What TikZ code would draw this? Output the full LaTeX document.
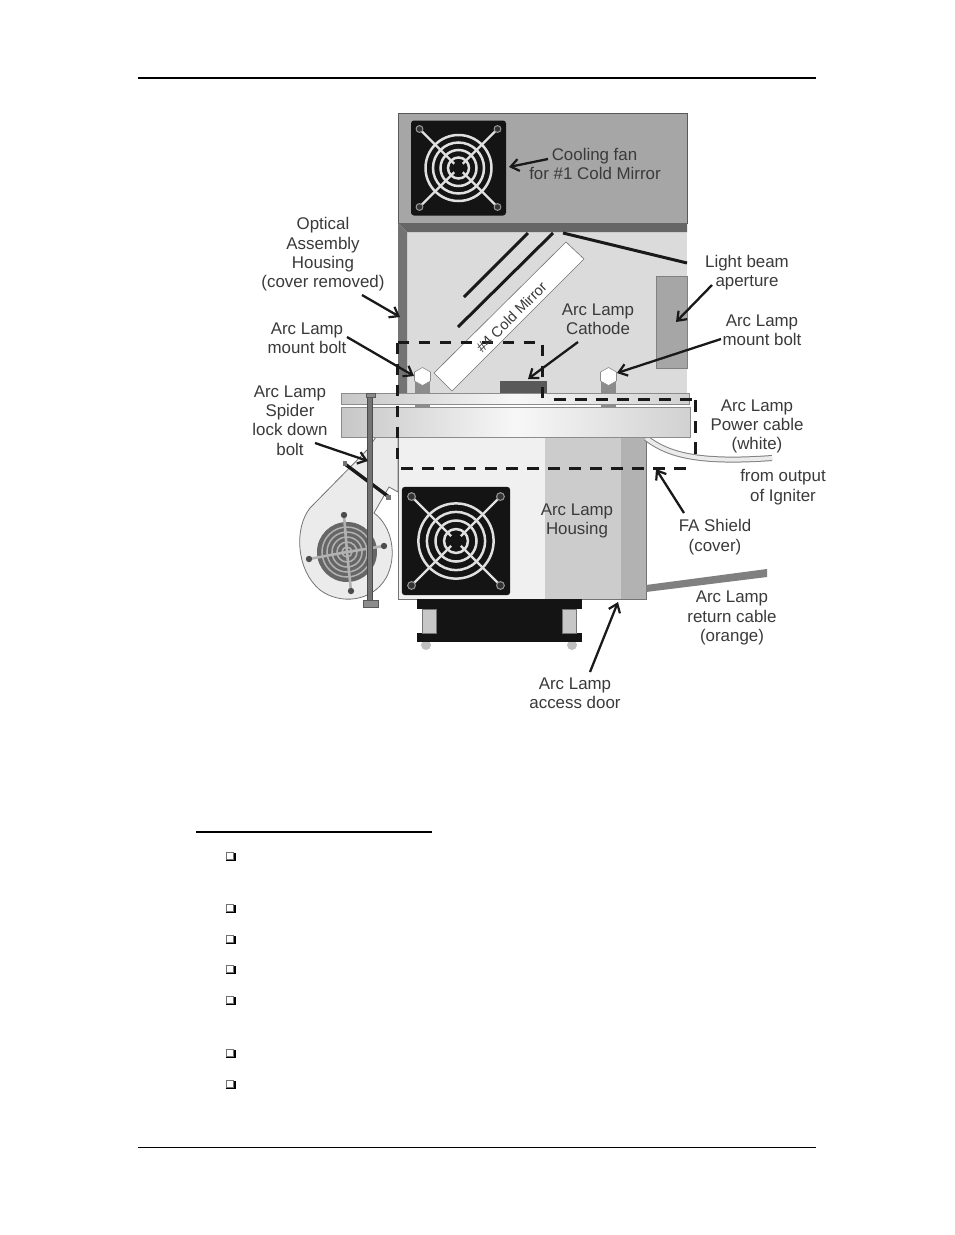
\documentclass[tikz,border=0pt]{standalone}
\usepackage{fontspec}
\setmainfont{Liberation Sans}
\usetikzlibrary{arrows.meta}
\definecolor{txt}{HTML}{3A3A3A}
\tikzset{
  lbl/.style={text=txt,font=\fontsize{16.9}{19.3}\selectfont,align=center,inner sep=0pt},
  callout/.style={draw=black!90,line width=2.3pt,-{Straight Barb[length=8pt,width=12pt,line width=2.2pt]}},
  dashline/.style={draw=black!90,line width=2.9pt,dash pattern=on 11.5pt off 9.5pt},
  platefill/.style={draw=black!45,line width=.8pt,left color=black!22,right color=black!18,middle color=black!3},
  fanring/.style={draw=black!12,line width=2.5pt},
  checkbox/.style={draw=black!55,line width=1pt,fill=white,minimum size=7.5pt,inner sep=0pt},
  bulletshadow/.style={draw=black,line width=1.7pt},
}
\newcommand{\fanunit}[3]{%
  \begin{scope}[shift={(#1,#2)},scale=#3]
    \fill[black!92,rounded corners=3pt] (-47.5,-47.5) rectangle (47.5,47.5);
    \foreach \sx/\sy in {1/1,1/-1,-1/1,-1/-1}{
      \draw[black!12,line width=2.3pt] (0,0) -- (\sx*38,\sy*38);
      \draw[black!40,fill=black!80,line width=1pt] (\sx*39,\sy*39) circle (3.4);
    }
    \foreach \r in {33,25.5,18,10.5}{\draw[fanring] (0,0) circle (\r);}
    \fill[black!92] (0,0) circle (6);
  \end{scope}}
\newcommand{\checkitem}[2]{%
  \node[checkbox] (#1) at (230,#2) {};
  \draw[bulletshadow] (226,#2+4.6) -- (234.8,#2+4.6) -- (234.8,#2-3.5);}
\begin{document}
\begin{tikzpicture}[x=1pt,y=-1pt]
\useasboundingbox (0,0) rectangle (954,1235);
\fill[white] (0,0) rectangle (954,1235);
% page rules
\draw[black,line width=2pt] (138,78) -- (816,78);
\draw[black,line width=1pt] (138,1147.5) -- (816,1147.5);
\draw[black,line width=2pt] (196,832) -- (432,832);
\checkitem{c1}{856}\checkitem{c2}{908}\checkitem{c3}{939}\checkitem{c4}{969}
\checkitem{c5}{1000}\checkitem{c6}{1053}\checkitem{c7}{1084}
% upper housing
\fill[black!35,draw=black!65,line width=.8pt] (398,113) rectangle (687,223);
\fill[black!14] (407,232) rectangle (687,393);
\fill[black!60] (398,223) -- (687,223) -- (687,232) -- (407,232) -- cycle;
\fill[black!55] (398,223) -- (407,232) -- (407,396) -- (398,396) -- cycle;
\fanunit{458.5}{168}{1}
\draw[black!90,line width=3pt] (528,233) -- (464,297);
\draw[black!90,line width=3pt] (553,233) -- (458,327);
\draw[black!90,line width=3pt] (563,233) -- (687,263);
\draw[black!55,fill=white,line width=.6pt] (566,242) -- (584,259) -- (452,391) -- (434,373) -- cycle;
\fill[black!35,draw=black!50,line width=.5pt] (656,276) rectangle (687,368);
\fill[black!65] (500,381) rectangle (547,393);
\foreach \bx/\nm in {422.5/ba,608.5/bb}{
  \fill[black!45] (\bx-7.5,381) rectangle (\bx+7.5,393);
  \fill[black!45] (\bx-7.5,404) rectangle (\bx+7.5,407);
  \draw[black!45,fill=white,line width=.6pt] (\bx,367.5) -- (\bx+8,372) -- (\bx+8,381) -- (\bx,385.5) -- (\bx-8,381) -- (\bx-8,372) -- cycle;
}
% blower
\draw[black!55,fill=black!8,line width=.8pt] (376,437) -- (367,450) -- (310,508) .. controls (294,528) and (296,570) .. (320,590) .. controls (340,605) and (372,602) .. (386,578) .. controls (398,556) and (392,526) .. (374,513) -- (389,487) -- (398,492) -- (398,437) -- cycle;
\fill[black!60] (347,552) circle (30);
\foreach \r in {25,20,15,10,5}{\draw[black!30,line width=1.5pt] (347,552) circle (\r);}
\foreach \sx/\sy in {344/515,384/546,351/591,309/559}{
  \draw[black!30,line width=2.6pt] (347,552) -- (\sx,\sy);
  \fill[black!70] (\sx,\sy) circle (3.2);
}
\draw[black!90,line width=3.4pt] (345,464) -- (389,497);
\fill[black!55] (343,461) rectangle (347,466);
\fill[black!55] (386,495) rectangle (391,500);
% lower housing
\fill[black!6] (398,437) rectangle (545,599);
\fill[black!20] (545,437) rectangle (621,599);
\fill[black!30] (621,437) rectangle (646,599);
\draw[black!55,line width=.8pt] (398,437) rectangle (646,599);
\fanunit{456}{541}{1.14}
% cables
\draw[black!50,line width=6pt,line cap=butt] (646,438) .. controls (665,452) and (690,464) .. (772,458);
\draw[black!8,line width=4pt,line cap=butt] (646,438) .. controls (665,452) and (690,464) .. (772,458);
\fill[black!50] (646,585) -- (767,569) -- (767,577) -- (646,592) -- cycle;
% feet
\fill[black!25] (426,645) circle (5);
\fill[black!25] (572,645) circle (5);
\fill[black!92] (417,599) rectangle (582,609);
\fill[black!92] (436,609) rectangle (562,633);
\fill[black!92] (417,633) rectangle (582,642);
\fill[black!22,draw=black!55,line width=.5pt] (422,609) rectangle (436,633);
\fill[black!22,draw=black!55,line width=.5pt] (562,609) rectangle (576,633);
% plates
\fill[platefill] (341,393) rectangle (689,404);
\fill[platefill] (341,407) rectangle (690,437);
% spider rod
\fill[black!55,draw=black!70,line width=.5pt] (367.7,395) rectangle (372.5,601);
\fill[black!45,draw=black!65,line width=.5pt] (366,393) rectangle (375,397);
\fill[black!45,draw=black!65,line width=.5pt] (363,600) rectangle (378,607);
% dashed outline
\draw[dashline] (397.5,342.5) -- (542.5,342.5) -- (542.5,402);
\draw[dashline] (397.5,342.5) -- (397.5,464);
\draw[dashline] (554,399.5) -- (694,399.5);
\draw[dashline] (695.5,400) -- (695.5,462);
\draw[dashline] (401,468.5) -- (692,468.5);
% labels
\node[lbl] (coolfan) at (595,164) {\hspace*{-1pt}Cooling fan\\for \#1 Cold Mirror};
\node[lbl] (optical) at (323,254.5) {Optical\\Assembly\\Housing\\(cover removed)};
\node[lbl] (mountl) at (307,338.5) {Arc Lamp\\mount bolt};
\node[lbl] (cathode) at (598,319) {Arc Lamp\\Cathode};
\node[lbl] (beam) at (747,272.5) {Light beam\\aperture};
\node[lbl] (mountr) at (762,330) {Arc Lamp\\mount bolt};
\node[lbl] (spider) at (290,420.5) {Arc Lamp\\Spider\\lock down\\bolt};
\node[lbl] (power) at (757,426.5) {Arc Lamp\\Power cable\\(white)};
\node[lbl] (igniter) at (783,487) {from output\\of Igniter};
\node[lbl] (fashield) at (715,537) {FA Shield\\(cover)};
\node[lbl] (lamphousing) at (577,521) {Arc Lamp\\Housing};
\node[lbl] (retcable) at (732,618) {Arc Lamp\\return cable\\(orange)};
\begin{scope}
  \clip (520,670) rectangle (650,708);
  \node[lbl] (door) at (575,693) {Arc Lamp\\access door};
\end{scope}
\node[lbl,rotate=45,font=\fontsize{14.6}{17}\selectfont] (mirror) at (511.5,317) {\#4 Cold Mirror};
% arrow ends
\coordinate (a1s) at (548,159); \coordinate (a1e) at (509,167);
\coordinate (a2s) at (362,295); \coordinate (a2e) at (400,317);
\coordinate (a3s) at (347,337); \coordinate (a3e) at (414,376);
\coordinate (a4s) at (578,342); \coordinate (a4e) at (528,379);
\coordinate (a5s) at (721,339); \coordinate (a5e) at (617,373);
\coordinate (a6s) at (712,285); \coordinate (a6e) at (676,322);
\coordinate (a7s) at (315,443); \coordinate (a7e) at (368,461);
\coordinate (a8s) at (684,513); \coordinate (a8e) at (656,469);
\coordinate (a9s) at (590,672); \coordinate (a9e) at (618,602);
\foreach \n in {1,...,9}{\draw[callout] (a\n s) -- (a\n e);}
\end{tikzpicture}
\end{document}
